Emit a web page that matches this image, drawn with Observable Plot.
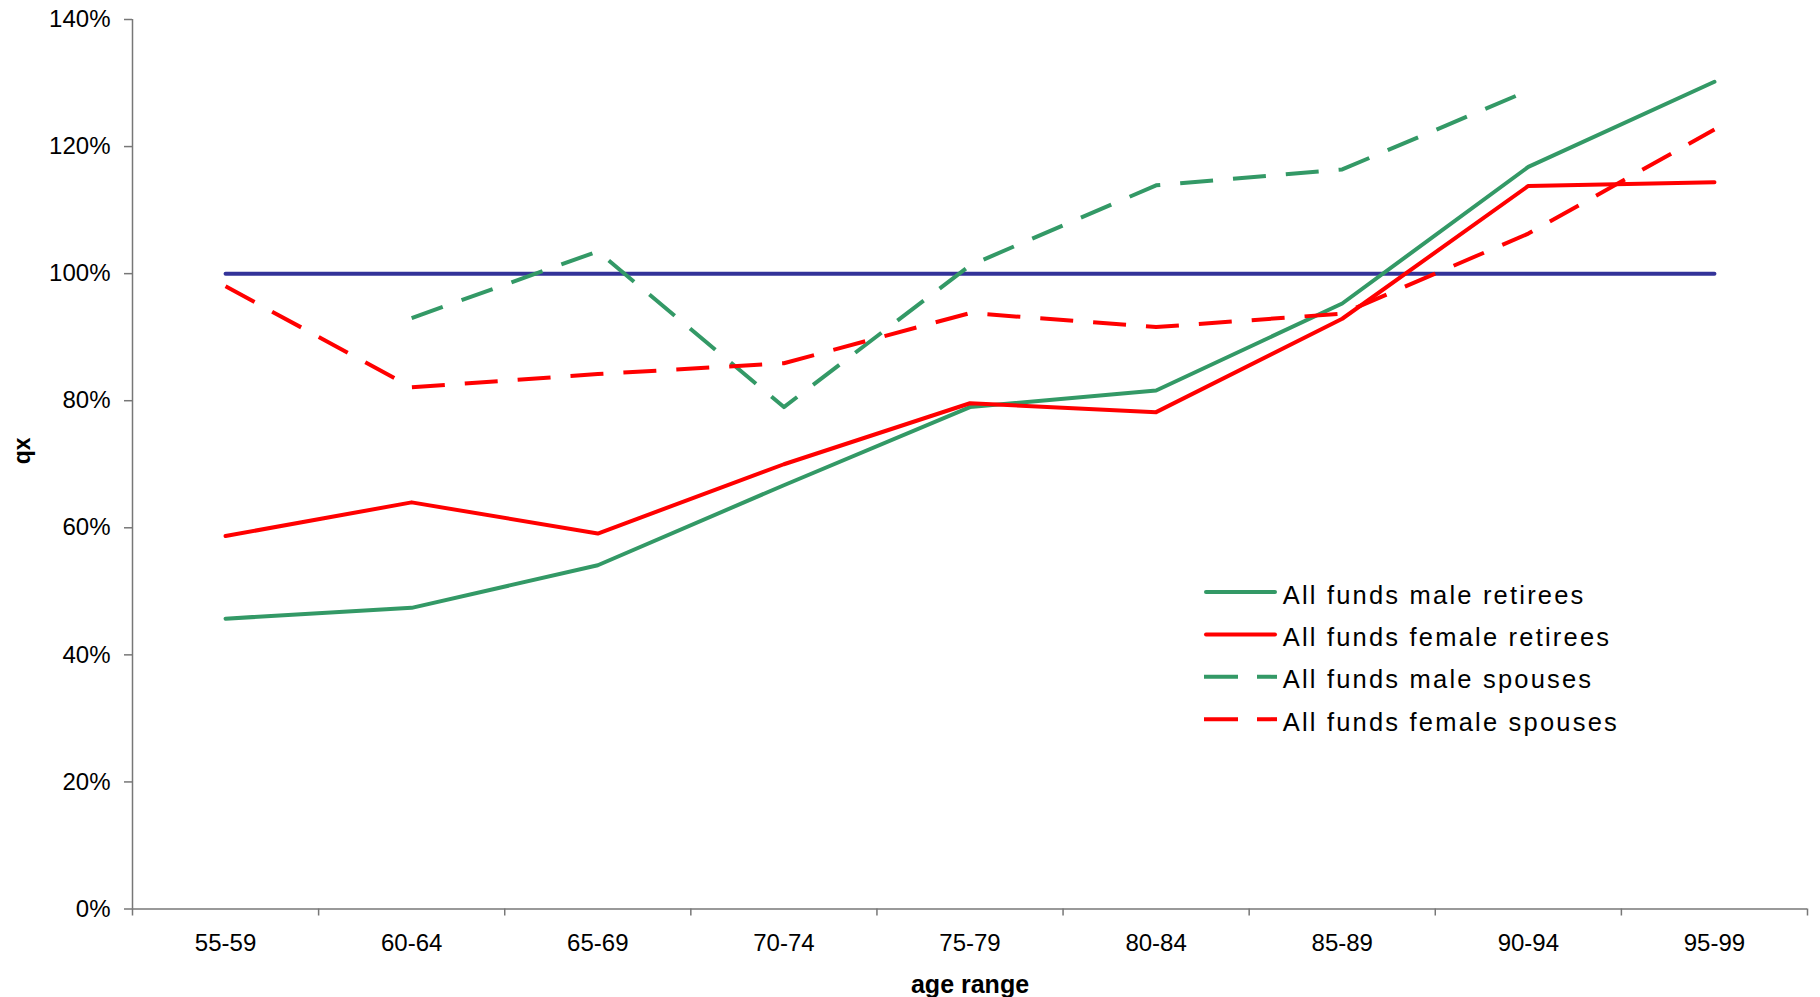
<!DOCTYPE html>
<html>
<head>
<meta charset="utf-8">
<script src="https://cdn.jsdelivr.net/npm/d3@7"></script>
<script src="https://cdn.jsdelivr.net/npm/@observablehq/plot@0.6"></script>
<style>
  html, body { margin: 0; padding: 0; background: #fff; }
  #chart { position: relative; width: 1820px; height: 997px; font-family: "Liberation Sans", Arial, sans-serif; }
  #legend { position: absolute; left: 1204px; top: 571px; overflow: visible; }
</style>
</head>
<body>
<div id="chart"></div>
<script>
// Age bands on the horizontal axis
const ages = ["55-59", "60-64", "65-69", "70-74", "75-79", "80-84", "85-89", "90-94", "95-99"];

// Vertical axis ticks (qx as a share of the standard table)
const yTicks = [0, 0.2, 0.4, 0.6, 0.8, 1.0, 1.2, 1.4];

// Standard table reference level
const standardQx = [1.0, 1.0, 1.0, 1.0, 1.0, 1.0, 1.0, 1.0, 1.0];

// Observed qx relative to standard, by age band
const maleRetirees   = [0.457, 0.474, 0.541, 0.667, 0.790, 0.816, 0.953, 1.168, 1.302];
const femaleRetirees = [0.587, 0.640, 0.591, 0.700, 0.796, 0.782, 0.929, 1.138, 1.144];
const maleSpouses    = [null, 0.930, 1.035, 0.790, 1.013, 1.139, 1.164, 1.288, null];
const femaleSpouses  = [0.980, 0.821, 0.842, 0.859, 0.938, 0.916, 0.937, 1.063, 1.227];

const seriesNames = ["All funds male retirees", "All funds female retirees", "All funds male spouses", "All funds female spouses"];
const seriesColors = ["#339966", "#ff0000", "#339966", "#ff0000"];
const seriesDashed = [false, false, true, true];
const seriesValues = [maleRetirees, femaleRetirees, maleSpouses, femaleSpouses];

const idx = d3.range(ages.length);
const bounds = d3.range(ages.length + 1).map(i => i - 0.5);
const axisColor = "#777";
const dash = "33,20";

function seriesLine(values, color, dashed) {
  return Plot.line(values, {
    x: (d, i) => i,
    y: d => d,
    stroke: color,
    strokeWidth: 4,
    strokeDasharray: dashed ? dash : undefined,
    strokeLinecap: dashed ? "butt" : "round",
    strokeLinejoin: "round"
  });
}

const plot = Plot.plot({
  width: 1820,
  height: 997,
  marginLeft: 132,
  marginRight: 13,
  marginTop: 19,
  marginBottom: 88.5,
  style: { fontFamily: "'Liberation Sans', Arial, sans-serif", background: "#fff", color: "#000" },
  x: { type: "linear", domain: [bounds[0], bounds[bounds.length - 1]] },
  y: { domain: [yTicks[0], yTicks[yTicks.length - 1]] },
  marks: [
    Plot.axisY({ ticks: yTicks, tickFormat: d3.format(".0%"), tickSize: 8, tickPadding: 14, fontSize: 24, stroke: axisColor, strokeWidth: 1.5, fill: "#000", label: null }),
    Plot.axisX({ ticks: bounds, tickFormat: () => "", tickSize: 7, stroke: axisColor, strokeWidth: 1.5, label: null }),
    Plot.axisX({ ticks: idx, tickFormat: i => ages[i], tickSize: 0, tickPadding: 24.5, fontSize: 24, fill: "#000", label: null }),
    Plot.ruleY([yTicks[0]], { stroke: axisColor, strokeWidth: 1.5 }),
    Plot.ruleX([bounds[0]], { stroke: axisColor, strokeWidth: 1.5 }),
    seriesLine(standardQx, "#333399", false),
    ...seriesValues.map((v, k) => seriesLine(v, seriesColors[k], seriesDashed[k])),
    Plot.text(["qx"], { text: d => d, frameAnchor: "left", dx: -110, rotate: -90, fontSize: 23, fontWeight: "bold", fill: "#000" }),
    Plot.text(["age range"], { text: d => d, frameAnchor: "bottom", dy: 84, fontSize: 25, fontWeight: "bold", fill: "#000" })
  ]
});

const chart = document.getElementById("chart");
chart.appendChild(plot);

// Legend in the lower right of the plot area
const rowH = 42.4;
const legend = d3.create("svg")
  .attr("id", "legend")
  .attr("width", 440)
  .attr("height", 21 + rowH * seriesNames.length);

const rows = legend.selectAll("g")
  .data(seriesNames.map((name, k) => ({ name, color: seriesColors[k], dashed: seriesDashed[k] })))
  .join("g")
  .attr("transform", (d, k) => `translate(0,${21 + k * rowH})`);

rows.append("line")
  .attr("x1", d => d.dashed ? 0 : 2)
  .attr("x2", d => d.dashed ? 73 : 71)
  .attr("y1", 0).attr("y2", 0)
  .attr("stroke", d => d.color)
  .attr("stroke-width", 4)
  .attr("stroke-linecap", d => d.dashed ? "butt" : "round")
  .attr("stroke-dasharray", d => d.dashed ? "34,19" : null);

rows.append("text")
  .attr("x", 78.7)
  .attr("y", 11.5)
  .attr("font-family", "'Liberation Sans', Arial, sans-serif")
  .attr("font-size", 25.5)
  .attr("letter-spacing", 2.2)
  .attr("fill", "#000")
  .text(d => d.name);

chart.appendChild(legend.node());
</script>
</body>
</html>
